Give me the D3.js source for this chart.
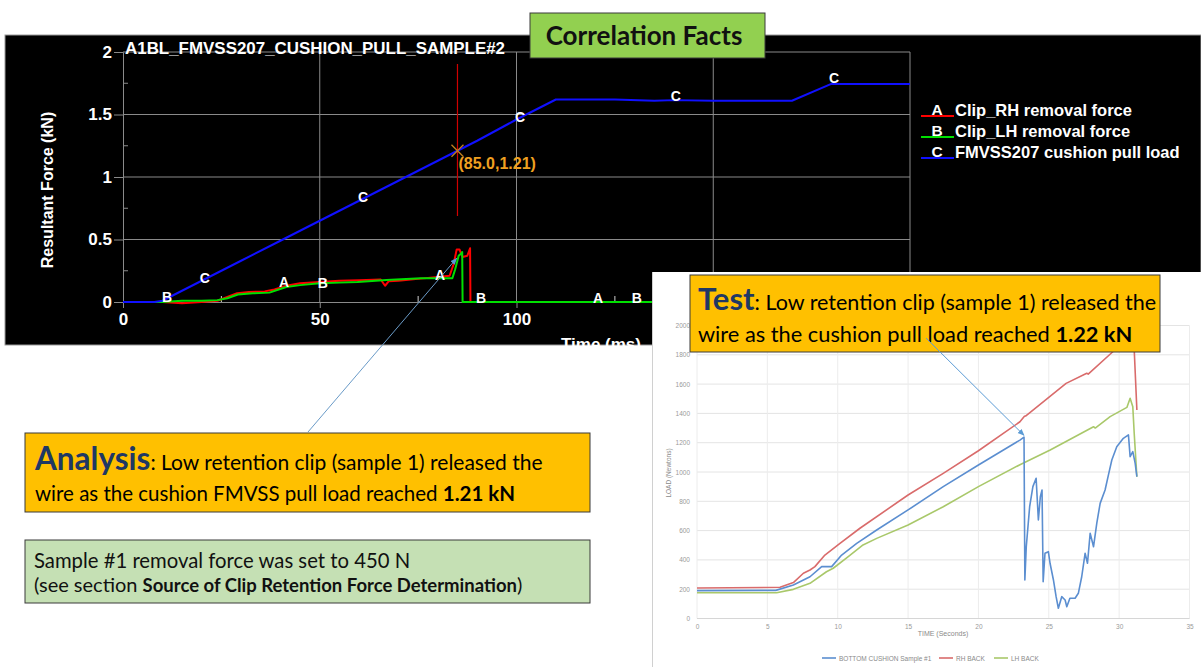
<!DOCTYPE html>
<html><head><meta charset="utf-8">
<script src="https://cdn.jsdelivr.net/npm/d3@7"></script>
<style>body{margin:0;background:#fff}svg{display:block}</style>
</head><body>
<svg id="c" width="1201" height="667"></svg>
<script>
// ---------- Top (simulation) chart data : time (ms), force (kN) ----------
const simTitle = "A1BL_FMVSS207_CUSHION_PULL_SAMPLE#2";
const simYTicks = [0, 0.5, 1, 1.5, 2];
const simYTickLabels = ["0", "0.5", "1", "1.5", "2"];
const simYMinor = [0.25, 0.75, 1.25, 1.75];
const simXGrid = [50, 100, 150, 200];
const simXTicks = [0, 50, 100];
const simXTickLabels = ["0", "50", "100"];
const simXMinor = [25, 75, 125, 175];

const timeA  = [0, 10, 15, 20, 24, 26.5, 29, 32, 36, 38.5, 41.5, 45, 50, 55, 60, 65.5, 66.6, 67.5, 70, 75, 80, 83, 84, 84.8, 85.5, 86.3, 87.5, 88.2, 88.3, 200];
const forceA = [0, 0, -0.01, 0, 0.01, 0.04, 0.07, 0.08, 0.085, 0.1, 0.13, 0.15, 0.16, 0.17, 0.175, 0.18, 0.13, 0.165, 0.17, 0.185, 0.2, 0.21, 0.3, 0.42, 0.42, 0.36, 0.37, 0.43, 0, 0];
const timeB  = [0, 10, 15, 20, 24, 26.5, 29.2, 33, 37.2, 41.5, 45, 50, 55, 59.6, 67, 75.7, 83.7, 84.4, 85.3, 86, 86.2, 86.3, 200];
const forceB = [0, 0, 0.01, 0.01, 0.015, 0.03, 0.06, 0.07, 0.075, 0.12, 0.135, 0.15, 0.155, 0.16, 0.176, 0.19, 0.19, 0.26, 0.37, 0.39, 0.4, 0, 0];
const timeC  = [0, 8, 10, 20, 30, 40, 50, 60, 70, 80, 85, 90, 100, 110, 125, 135, 140, 150, 170, 180, 200];
const forceC = [0, 0, 0.01, 0.17, 0.33, 0.49, 0.65, 0.81, 0.97, 1.13, 1.21, 1.29, 1.46, 1.62, 1.62, 1.61, 1.615, 1.61, 1.61, 1.745, 1.745];

const markLetters = ["B", "C", "A", "B", "C", "A", "B", "C", "C", "C", "A", "B"];
const markTimes   = [11.2, 20.8, 40.9, 50.8, 61, 80.6, 91, 100.9, 140.5, 180.7, 120.7, 130.6];
const markForces  = [0.04, 0.19, 0.16, 0.15, 0.84, 0.22, 0.03, 1.48, 1.65, 1.79, 0.03, 0.03];

const simLegendKeys = ["A", "B", "C"];
const simLegendNames = ["Clip_RH removal force", "Clip_LH removal force", "FMVSS207 cushion pull load"];
const simColors = ["#ff0000", "#00e000", "#1010ff"];

const cursorTime = 85.0, cursorForce = 1.21, cursorLabel = "(85.0,1.21)";

// ---------- Bottom-right (test) chart data : time (s), load (N) ----------
const testYTicks = [0, 200, 400, 600, 800, 1000, 1200, 1400, 1600, 1800, 2000];
const testXTicks = [0, 5, 10, 15, 20, 25, 30, 35];
const tBlue = [0, 5.6, 6.85, 8.03, 8.86, 9.57, 10.28, 11.35, 12.77, 15, 17.5, 20, 22.95, 23.24, 23.3, 23.4, 23.64, 23.87, 24.1, 24.26, 24.4, 24.52, 24.6, 24.73, 24.97, 25.09, 25.33, 25.52, 25.68, 25.92, 26.16, 26.28, 26.5, 26.87, 27.1, 27.34, 27.58, 27.75, 27.94, 28.18, 28.41, 28.65, 29.0, 29.24, 29.48, 29.83, 30.3, 30.66, 30.78, 30.97, 31.14, 31.26];
const vBlue = [190, 192, 229, 285, 354, 354, 433, 513, 604, 741, 900, 1048, 1218, 1238, 263, 490, 763, 900, 957, 672, 831, 877, 251, 445, 456, 377, 263, 149, 70, 149, 126, 80, 138, 138, 172, 285, 445, 377, 582, 490, 650, 786, 877, 980, 1082, 1173, 1230, 1253, 1105, 1139, 1059, 968];
const tRed = [0, 5.9, 6.85, 7.56, 8.03, 8.38, 9.09, 10.16, 11.58, 15, 17.5, 20, 22.95, 23.27, 23.35, 26.23, 27.7, 27.8, 29.55, 31.0, 31.26];
const vRed = [208, 213, 245, 309, 331, 354, 433, 513, 616, 843, 991, 1145, 1343, 1380, 1382, 1605, 1674, 1668, 1821, 1990, 1423];
const tGreen = [0, 5.66, 6.85, 8.03, 9.2, 9.68, 10.75, 11.8, 12.77, 15, 17.5, 20, 22.95, 25.1, 28.18, 28.3, 29.36, 30.55, 30.78, 30.97, 31.07, 31.26];
const vGreen = [176, 176, 199, 240, 319, 343, 422, 502, 547, 638, 763, 900, 1050, 1150, 1309, 1300, 1378, 1441, 1503, 1446, 1264, 968];
const testNames = ["BOTTOM CUSHION Sample #1", "RH BACK", "LH BACK"];
const testColors = ["#5b8ed0", "#d96b6b", "#a9c86a"];
const releaseTime = 23.24, releaseLoad = 1250;

const svg = d3.select("#c");
const SANS = "'Liberation Sans', Arial, sans-serif";
const CAL = "Lato, 'Open Sans', sans-serif";

// ================= TOP CHART =================
const gTop = svg.append("g");
gTop.append("rect").attr("x", 5).attr("y", 35).attr("width", 1196).attr("height", 310)
  .attr("fill", "#000").attr("stroke", "#9a9a9a").attr("stroke-width", 1);

const xT = d3.scaleLinear().domain([0, 200]).range([123, 910]);
const yT = d3.scaleLinear().domain([0, 2]).range([302, 52]);
const gridCol = "#8a8a8a";

gTop.append("g").selectAll("line").data(simYTicks.slice(1)).join("line")
  .attr("x1", xT(0)).attr("x2", xT(200)).attr("y1", d => yT(d)).attr("y2", d => yT(d))
  .attr("stroke", gridCol).attr("stroke-width", 1);
gTop.append("g").selectAll("line").data(simXGrid).join("line")
  .attr("x1", d => xT(d)).attr("x2", d => xT(d)).attr("y1", yT(0)).attr("y2", yT(2))
  .attr("stroke", gridCol).attr("stroke-width", 1);

const yAx = gTop.append("g").attr("transform", `translate(${xT(0)},0)`)
  .call(d3.axisLeft(yT).tickValues(simYTicks).tickSize(9).tickPadding(2)
    .tickFormat((d, i) => simYTickLabels[i]));
const xAx = gTop.append("g").attr("transform", `translate(0,${yT(0)})`)
  .call(d3.axisBottom(xT).tickValues(simXTicks).tickSize(6).tickPadding(5)
    .tickFormat((d, i) => simXTickLabels[i]));
[yAx, xAx].forEach(a => {
  a.selectAll("path,line").attr("stroke", gridCol);
  a.selectAll("text").attr("fill", "#fff").style("font", `bold 17px ${SANS}`);
});
gTop.append("g").selectAll("line").data(simYMinor).join("line")
  .attr("x1", xT(0)).attr("x2", xT(0) + 5).attr("y1", d => yT(d)).attr("y2", d => yT(d))
  .attr("stroke", gridCol);
gTop.append("g").selectAll("line").data(simXMinor).join("line")
  .attr("x1", d => xT(d)).attr("x2", d => xT(d)).attr("y1", yT(0)).attr("y2", yT(0) - 6)
  .attr("stroke", "#cfcfcf");

gTop.append("text").attr("x", 125).attr("y", 54).attr("fill", "#fff")
  .attr("textLength", 380).attr("lengthAdjust", "spacingAndGlyphs")
  .style("font", `bold 16.5px ${SANS}`).text(simTitle);
gTop.append("text").attr("transform", "translate(53,190) rotate(-90)")
  .attr("text-anchor", "middle").attr("fill", "#fff")
  .style("font", `bold 16px ${SANS}`).text("Resultant Force (kN)");
gTop.append("text").attr("x", 601).attr("y", 350).attr("text-anchor", "middle").attr("fill", "#fff")
  .style("font", `bold 17px ${SANS}`).text("Time (ms)");

const lineT = d3.line().x(d => xT(d[0])).y(d => yT(d[1]));
const simSeries = [d3.zip(timeA, forceA), d3.zip(timeB, forceB), d3.zip(timeC, forceC)];
[0, 1, 2].forEach(i => {
  gTop.append("path").datum(simSeries[i]).attr("d", lineT).attr("fill", "none")
    .attr("stroke", simColors[i]).attr("stroke-width", 2).attr("stroke-linejoin", "round");
});
gTop.append("g").selectAll("text").data(markLetters).join("text")
  .attr("x", (d, i) => xT(markTimes[i])).attr("y", (d, i) => yT(markForces[i]))
  .attr("dy", "0.36em").attr("text-anchor", "middle").attr("fill", "#fff")
  .style("font", `bold 14px ${SANS}`).text(d => d);

gTop.append("line").attr("x1", xT(cursorTime)).attr("x2", xT(cursorTime))
  .attr("y1", 64).attr("y2", 216).attr("stroke", "#d00000").attr("stroke-width", 1.2);
const cx = xT(cursorTime), cy = yT(cursorForce);
gTop.append("path").attr("d", `M${cx - 6},${cy - 6}L${cx + 6},${cy + 6}M${cx - 6},${cy + 6}L${cx + 6},${cy - 6}`)
  .attr("stroke", "#c08020").attr("stroke-width", 1.3);
gTop.append("text").attr("x", cx + 1).attr("y", 169).attr("fill", "#f0a020")
  .style("font", `bold 16px ${SANS}`).text(cursorLabel);

const lg = gTop.append("g");
simLegendKeys.forEach((k, i) => {
  const by = 116 + i * 21;
  lg.append("line").attr("x1", 921).attr("x2", 954).attr("y1", by).attr("y2", by)
    .attr("stroke", simColors[i]).attr("stroke-width", 2);
  lg.append("text").attr("x", 937).attr("y", by - 1).attr("text-anchor", "middle").attr("fill", "#fff")
    .style("font", `bold 15.5px ${SANS}`).text(k);
  lg.append("text").attr("x", 955).attr("y", by).attr("fill", "#fff")
    .style("font", `bold 16.5px ${SANS}`).text(simLegendNames[i]);
});

// ================= TEST CHART =================
const tp = svg.append("g");
tp.append("rect").attr("x", 652).attr("y", 272).attr("width", 549).attr("height", 395).attr("fill", "#fff");
tp.append("line").attr("x1", 652.5).attr("x2", 652.5).attr("y1", 272).attr("y2", 667).attr("stroke", "#d0d0d0");

const xS = d3.scaleLinear().domain([0, 35]).range([697, 1189.5]);
const yS = d3.scaleLinear().domain([0, 2000]).range([618.5, 325.5]);
tp.append("g").selectAll("line").data(testYTicks).join("line")
  .attr("x1", xS(0)).attr("x2", xS(35)).attr("y1", d => yS(d)).attr("y2", d => yS(d))
  .attr("stroke", "#e4e4e4");
tp.append("g").selectAll("line").data(testXTicks).join("line")
  .attr("x1", d => xS(d)).attr("x2", d => xS(d)).attr("y1", yS(0)).attr("y2", yS(2000))
  .attr("stroke", "#ececec");
tp.append("line").attr("x1", xS(0)).attr("x2", xS(35)).attr("y1", yS(0)).attr("y2", yS(0)).attr("stroke", "#d6d6d6");

const yAxS = tp.append("g").attr("transform", `translate(${xS(0)},0)`)
  .call(d3.axisLeft(yS).tickValues(testYTicks).tickSize(0).tickPadding(7).tickFormat(d3.format("d")));
const xAxS = tp.append("g").attr("transform", `translate(0,${yS(0)})`)
  .call(d3.axisBottom(xS).tickValues(testXTicks).tickSize(0).tickPadding(6).tickFormat(d3.format("d")));
[yAxS, xAxS].forEach(a => {
  a.select(".domain").remove();
  a.selectAll("text").attr("fill", "#9a9a9a").style("font", `6.5px ${SANS}`);
});
tp.append("text").attr("transform", "translate(671,473) rotate(-90)").attr("text-anchor", "middle")
  .attr("fill", "#8a8a8a").style("font", `6.5px ${SANS}`).text("LOAD (Newtons)");
tp.append("text").attr("x", 943).attr("y", 636).attr("text-anchor", "middle")
  .attr("fill", "#8a8a8a").style("font", `7px ${SANS}`).text("TIME (Seconds)");

const lineS = d3.line().x(d => xS(d[0])).y(d => yS(d[1]));
const testSeries = [d3.zip(tBlue, vBlue), d3.zip(tRed, vRed), d3.zip(tGreen, vGreen)];
[1, 2, 0].forEach(i => {
  tp.append("path").datum(testSeries[i]).attr("d", lineS).attr("fill", "none")
    .attr("stroke", testColors[i]).attr("stroke-width", 1.6).attr("stroke-linejoin", "round");
});
const tlX = [822, 939, 994];
testNames.forEach((n, i) => {
  tp.append("line").attr("x1", tlX[i]).attr("x2", tlX[i] + 14).attr("y1", 658).attr("y2", 658)
    .attr("stroke", testColors[i]).attr("stroke-width", 1.6);
  tp.append("text").attr("x", tlX[i] + 17).attr("y", 660.5).attr("fill", "#8a8a8a")
    .style("font", `6.5px ${SANS}`).text(n);
});

// ================= ANNOTATION BOXES =================
const defs = svg.append("defs");
defs.append("marker").attr("id", "arr").attr("viewBox", "0 0 10 10").attr("refX", 9).attr("refY", 5)
  .attr("markerWidth", 7).attr("markerHeight", 7).attr("orient", "auto-start-reverse")
  .append("path").attr("d", "M0,1L10,5L0,9Z").attr("fill", "#5b9bd5");

svg.append("rect").attr("x", 690).attr("y", 275).attr("width", 470).attr("height", 77)
  .attr("fill", "#ffc000").attr("stroke", "#3a3a3a").attr("stroke-width", 1);
const t1 = svg.append("text").attr("x", 698).attr("y", 310).style("font", `21.5px ${CAL}`).attr("fill", "#000");
t1.append("tspan").attr("fill", "#1f3864").style("font-weight", "bold").style("font-size", "31px").text("Test");
t1.append("tspan").text(": Low retention clip (sample 1) released the");
const t2 = svg.append("text").attr("x", 698).attr("y", 342).style("font", `21.8px ${CAL}`).attr("fill", "#000");
t2.append("tspan").text("wire as the cushion pull load reached ");
t2.append("tspan").style("font-weight", "bold").text("1.22 kN");
svg.append("line").attr("x1", 926).attr("y1", 338).attr("x2", xS(releaseTime)).attr("y2", yS(releaseLoad))
  .attr("stroke", "#5b9bd5").attr("stroke-width", 1).attr("marker-end", "url(#arr)");

svg.append("rect").attr("x", 25).attr("y", 433).attr("width", 565).attr("height", 79)
  .attr("fill", "#ffc000").attr("stroke", "#3a3a3a").attr("stroke-width", 1);
const a1 = svg.append("text").attr("x", 35).attr("y", 470).style("font", `21px ${CAL}`).attr("fill", "#000");
a1.append("tspan").attr("fill", "#1f3864").style("font-weight", "bold").style("font-size", "31.5px").text("Analysis");
a1.append("tspan").text(": Low retention clip (sample 1) released the");
const a2 = svg.append("text").attr("x", 35).attr("y", 501).style("font", `20.5px ${CAL}`).attr("fill", "#000");
a2.append("tspan").text("wire as the cushion FMVSS pull load reached ");
a2.append("tspan").style("font-weight", "bold").text("1.21 kN");
svg.append("line").attr("x1", 308).attr("y1", 432).attr("x2", xT(84.8)).attr("y2", yT(0.35))
  .attr("stroke", "#6a9bc8").attr("stroke-width", 1).attr("marker-end", "url(#arr)");

svg.append("rect").attr("x", 25).attr("y", 540).attr("width", 565).attr("height", 63)
  .attr("fill", "#c5e0b4").attr("stroke", "#3a3a3a").attr("stroke-width", 1);
svg.append("text").attr("x", 34).attr("y", 568).style("font", `20.3px ${CAL}`).attr("fill", "#111")
  .text("Sample #1 removal force was set to 450 N");
const s2 = svg.append("text").attr("x", 34).attr("y", 592).style("font", `20px ${CAL}`).attr("fill", "#111");
s2.append("tspan").text("(see section ");
s2.append("tspan").style("font-weight", "bold").style("font-size", "18.5px").text("Source of Clip Retention Force Determination");
s2.append("tspan").text(")");

svg.append("rect").attr("x", 530).attr("y", 13).attr("width", 235).attr("height", 45)
  .attr("fill", "#92d050").attr("stroke", "#3a3a3a").attr("stroke-width", 1);
svg.append("text").attr("x", 644).attr("y", 45).attr("text-anchor", "middle").attr("fill", "#111")
  .style("font", `bold 26px ${CAL}`).text("Correlation Facts");
</script></body></html>
